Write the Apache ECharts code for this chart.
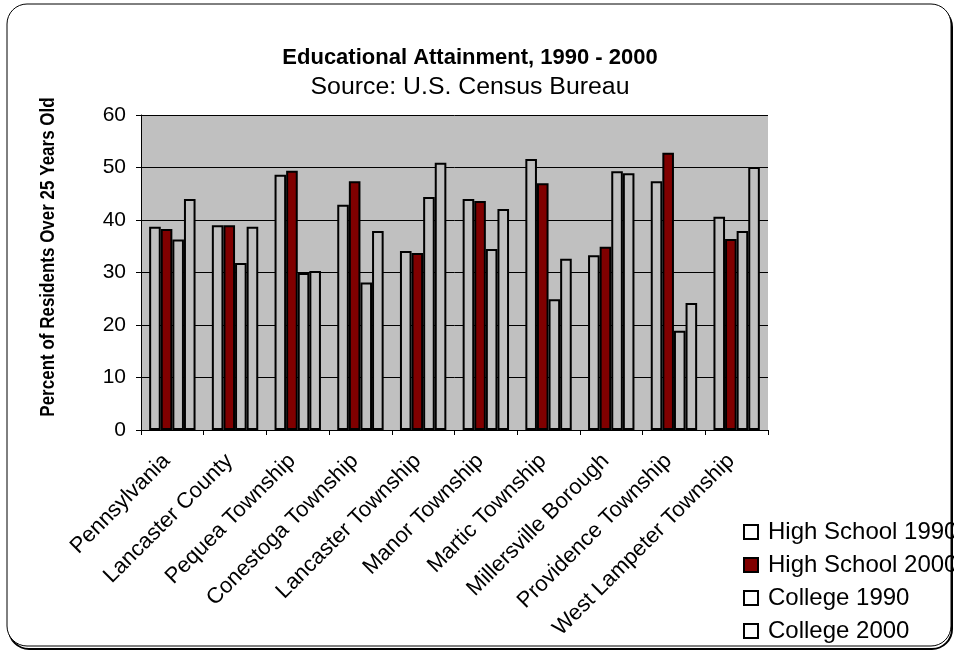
<!DOCTYPE html>
<html>
<head>
<meta charset="utf-8">
<script src="https://cdn.jsdelivr.net/npm/echarts@6/dist/echarts.min.js"></script>
<style>html,body{margin:0;padding:0;background:#fff}#c{width:954px;height:652px}</style>
</head>
<body>
<div id="c"></div>
<script>
const categories = ['Pennsylvania','Lancaster County','Pequea Township','Conestoga Township','Lancaster Township','Manor Township','Martic Township','Millersville Borough','Providence Township','West Lampeter Township'];
const seriesNames = ['High School 1990','High School 2000','College 1990','College 2000'];
const highSchool1990 = [38.7, 39.0, 48.6, 42.9, 34.1, 44.0, 51.6, 33.3, 47.4, 40.6];
const highSchool2000 = [38.3, 39.0, 49.4, 47.4, 33.7, 43.6, 47.0, 34.9, 52.8, 36.4];
const college1990   = [36.3, 31.8, 29.9, 28.1, 44.4, 34.5, 24.9, 49.3, 18.9, 37.9];
const college2000   = [44.0, 38.7, 30.3, 37.9, 50.9, 42.1, 32.6, 48.9, 24.2, 50.1];
const yTicks = [0, 10, 20, 30, 40, 50, 60];

const FONT = '"Liberation Sans", Arial, sans-serif';
const values = [highSchool1990, highSchool2000, college1990, college2000];
const fills = ['#C0C0C0', '#800000', '#C0C0C0', '#C0C0C0'];
const legendFills = ['#FFFFFF', '#800000', '#FFFFFF', '#FFFFFF'];

const chart = echarts.init(document.getElementById('c'), null, {renderer: 'canvas'});
chart.setOption({
  animation: false,
  backgroundColor: '#FFFFFF',
  graphic: [
    {type: 'rect', z: -10, shape: {x: 9, y: 7, width: 943, height: 642, r: 20}, style: {fill: 'none', stroke: '#000', lineWidth: 2}},
    {type: 'rect', z: -9, shape: {x: 7, y: 4, width: 944, height: 642, r: 20}, style: {fill: '#fff', stroke: '#000', lineWidth: 1}},
    {type: 'text', x: 470, y: 58, style: {text: 'Educational Attainment, 1990 - 2000', font: 'bold 22px ' + FONT, fill: '#000', textAlign: 'center', textVerticalAlign: 'middle'}},
    {type: 'text', x: 470, y: 88, scaleX: 1.08, style: {text: 'Source: U.S. Census Bureau', font: '23px ' + FONT, fill: '#000', textAlign: 'center', textVerticalAlign: 'middle'}},
    {type: 'text', x: 48, y: 257, rotation: Math.PI / 2, scaleX: 0.85, style: {text: 'Percent of Residents Over 25 Years Old', font: 'bold 20px ' + FONT, fill: '#000', textAlign: 'center', textVerticalAlign: 'middle'}}
  ],
  legend: {
    orient: 'vertical',
    left: 743,
    top: 520,
    padding: 0,
    itemWidth: 14,
    itemHeight: 14,
    itemGap: 9,
    icon: 'rect',
    textStyle: {fontFamily: FONT, fontSize: 24, color: '#000', padding: [0, 0, 0, 5]},
    data: seriesNames.map((n, i) => ({name: n, itemStyle: {color: legendFills[i], borderColor: '#000', borderWidth: 2}}))
  },
  grid: {left: 141, right: 186, top: 115, bottom: 222, show: true, backgroundColor: '#C0C0C0', borderWidth: 0},
  xAxis: {
    type: 'category',
    data: categories,
    axisLine: {lineStyle: {color: '#000', width: 1}},
    axisTick: {show: true, length: 5, lineStyle: {color: '#000'}},
    axisLabel: {rotate: 45, fontFamily: FONT, fontSize: 22, color: '#000', margin: 22, padding: [0, 8, 0, 0], interval: 0}
  },
  yAxis: {
    type: 'value',
    min: yTicks[0],
    max: yTicks[yTicks.length - 1],
    interval: 10,
    axisLine: {show: true, lineStyle: {color: '#000', width: 1}},
    axisTick: {show: true, length: 5, lineStyle: {color: '#000'}},
    axisLabel: {fontFamily: FONT, fontSize: 21, color: '#000', margin: 15},
    splitLine: {show: true, lineStyle: {color: '#000', width: 1}}
  },
  series: seriesNames.map((n, i) => ({
    name: n,
    type: 'bar',
    data: values[i],
    barGap: '0%',
    barCategoryGap: '26%',
    itemStyle: {color: fills[i], borderColor: '#000', borderWidth: 2},
    emphasis: {disabled: true}
  }))
});
</script>
</body>
</html>
